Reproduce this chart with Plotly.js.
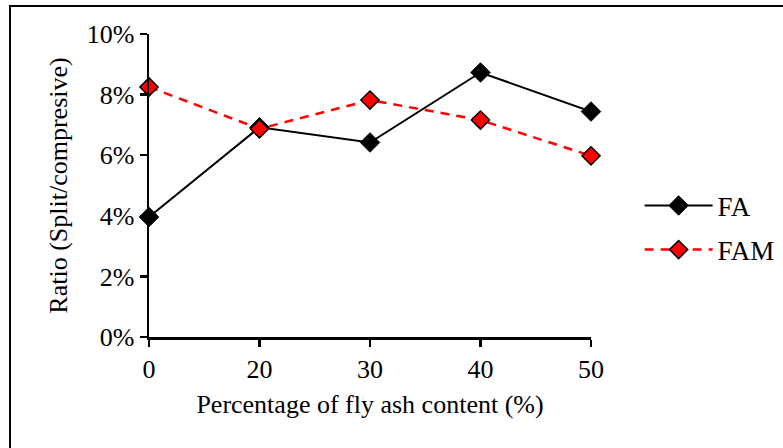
<!DOCTYPE html>
<html>
<head>
<meta charset="utf-8">
<script src="https://cdn.plot.ly/plotly-3.0.1.min.js"></script>
<style>
  html, body { margin: 0; padding: 0; background: #fff; }
  #wrap { position: relative; width: 783px; height: 448px; overflow: hidden; }
  #chart { position: absolute; left: 0; top: 0; width: 783px; height: 448px; }
  #frame { position: absolute; left: 9px; top: 5px; width: 800px; height: 500px;
           border-top: 2px solid #000; border-left: 2px solid #000; pointer-events: none; }
</style>
</head>
<body>
<div id="wrap">
  <div id="chart"></div>
  <div id="frame"></div>
</div>
<script>
const categories = ['0', '20', '30', '40', '50'];
const faValues  = [0.0396, 0.0692, 0.0642, 0.0873, 0.0744];
const famValues = [0.0825, 0.0687, 0.0782, 0.0716, 0.0598];
const seriesNames = ['FA', 'FAM'];
const yTickValues = [0, 0.02, 0.04, 0.06, 0.08, 0.10];
const xTitle = 'Percentage of fly ash content (%)';
const yTitle = 'Ratio (Split/compresive)';

const FONT = 'Liberation Serif, Times New Roman, serif';

const traces = [
  {
    x: categories, y: faValues, name: seriesNames[0], legendgroup: 'a',
    type: 'scatter', mode: 'lines+markers', cliponaxis: false,
    line: { color: '#000000', width: 2 },
    marker: { symbol: 'diamond', size: 15, color: '#000000', line: { color: '#000000', width: 1 } }
  },
  {
    x: categories, y: famValues, name: seriesNames[1], legendgroup: 'b',
    type: 'scatter', mode: 'lines+markers', cliponaxis: false,
    line: { color: '#ff0000', width: 2.5, dash: '9px,7px' },
    marker: { symbol: 'diamond', size: 14, color: '#ff0000', line: { color: '#000000', width: 1.5 } }
  }
];

const layout = {
  width: 783, height: 448,
  margin: { l: 149, r: 192, t: 34, b: 111, pad: 0, autoexpand: false },
  paper_bgcolor: '#ffffff', plot_bgcolor: '#ffffff',
  font: { family: FONT, size: 26, color: '#000000' },
  showlegend: true,
  legend: {
    x: 1.11, y: 0.36, xanchor: 'left', yanchor: 'middle',
    font: { family: FONT, size: 27, color: '#000' },
    traceorder: 'grouped', tracegroupgap: 6, itemwidth: 68,
    bgcolor: 'rgba(0,0,0,0)'
  },
  xaxis: {
    type: 'category', range: [0, 4],
    showline: true, linecolor: '#000', linewidth: 2.5,
    showgrid: false, zeroline: false,
    ticks: 'outside', ticklen: 7, tickwidth: 2.5, tickcolor: '#000',
    tickfont: { family: FONT, size: 26, color: '#000' },
    title: { text: xTitle, font: { family: FONT, size: 26, color: '#000' }, standoff: 12 }
  },
  yaxis: {
    range: [0, 0.10], tickvals: yTickValues, tickformat: '.0%',
    showline: true, linecolor: '#000', linewidth: 2.5,
    showgrid: false, zeroline: false,
    ticks: 'outside', ticklen: 7, tickwidth: 2.5, tickcolor: '#000',
    tickfont: { family: FONT, size: 26, color: '#000' },
    title: { text: yTitle, font: { family: FONT, size: 26, color: '#000' }, standoff: 12 }
  }
};

Plotly.newPlot('chart', traces, layout, { displayModeBar: false, staticPlot: true });
</script>
</body>
</html>
